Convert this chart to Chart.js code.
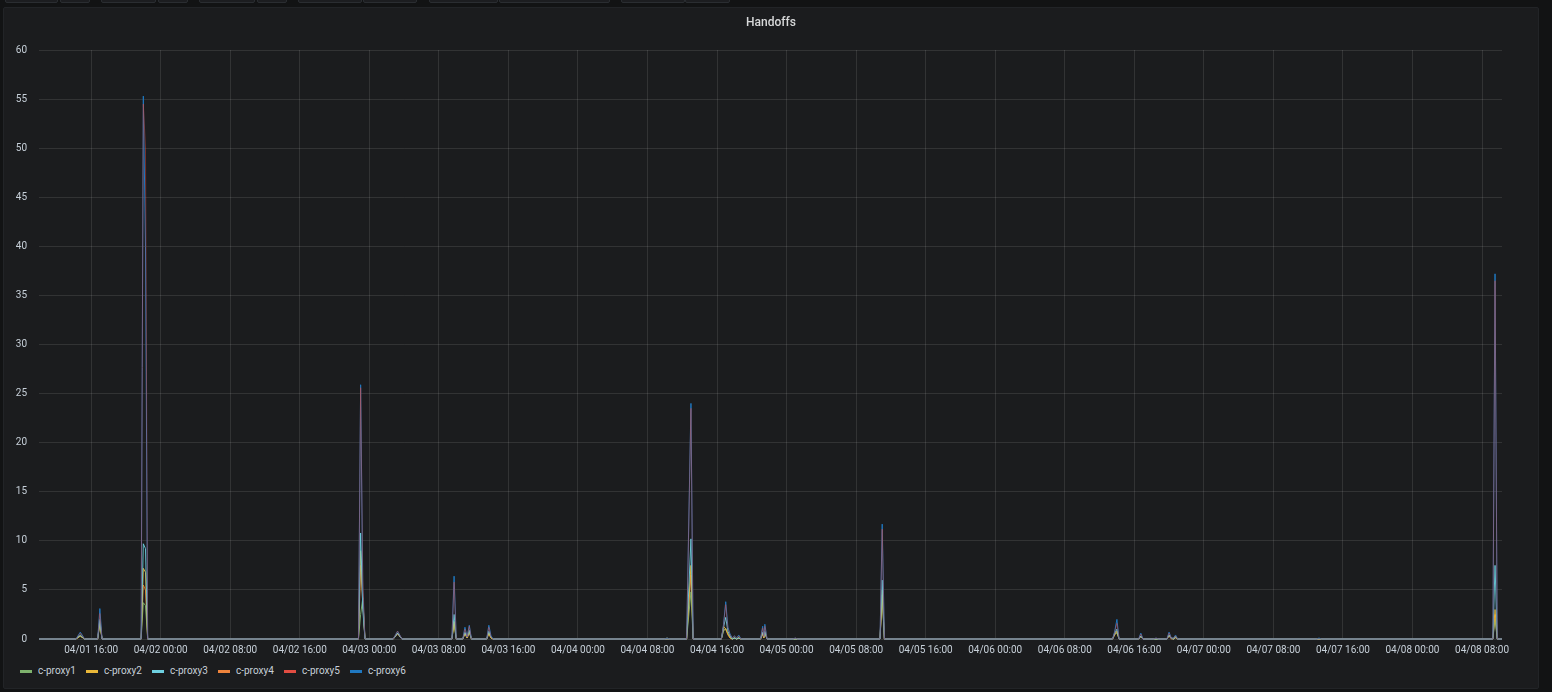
<!DOCTYPE html>
<html>
<head>
<meta charset="utf-8">
<title>Handoffs</title>
<script src="https://cdn.jsdelivr.net/npm/chart.js@4.4.0/dist/chart.umd.min.js"></script>
<style>
  html, body {
    margin: 0;
    padding: 0;
    width: 1552px;
    height: 692px;
    overflow: hidden;
    background: #121314;
    font-family: Roboto, "Noto Sans", sans-serif;
  }
  .btn {
    position: absolute;
    top: -20px;
    height: 21px;
    background: #1c1d20;
    border: 1px solid #2a2d31;
    border-radius: 2px;
  }
  #panel {
    position: absolute;
    left: 3px;
    top: 7px;
    width: 1536px;
    height: 682px;
    box-sizing: border-box;
    background: #1b1c1e;
    border: 1px solid #222427;
    border-radius: 2px;
  }
  #title {
    position: absolute;
    left: 0;
    top: 6px;
    width: 100%;
    text-align: center;
    font-size: 12px;
    font-weight: 500;
    line-height: 16px;
    color: #d8d9da;
  }
  #handoffs {
    position: absolute;
    left: 0;
    top: 0;
  }
  #legend {
    position: absolute;
    left: 16px;
    top: 656px;
    height: 14px;
    display: flex;
  }
  .item {
    width: 66px;
    display: flex;
    align-items: center;
    font-size: 10px;
    line-height: 14px;
    color: #c7d0d9;
  }
  .swatch {
    width: 12px;
    height: 3px;
    margin-right: 6px;
  }
</style>
</head>
<body>
<div id="toolbar"></div>
<div id="panel">
  <canvas id="handoffs" width="1534" height="655"></canvas>
  <div id="title">Handoffs</div>
  <div id="legend"></div>
</div>
<script>
const SERIES = ["c-proxy1", "c-proxy2", "c-proxy3", "c-proxy4", "c-proxy5", "c-proxy6"];
const COLORS = ["#7EB26D", "#EAB839", "#6ED0E0", "#EF843C", "#E24D42", "#1F78C1"];
const LINE_ALPHA = [0.9, 0.9, 0.9, 0.8, 0.45, 1];
// lower order is painted on top: red over blue gives the purple-grey tint
const DRAW_ORDER = [5, 4, 3, 6, 0, 1];

// hours since 04/01 00:00
const HOURS = [
  10, 14.25, 14.75, 15.25, 16.75, 17, 17.25,
  21.75, 22, 22.25, 22.5,
  46.75, 47, 47.25, 47.5,
  50.75, 51.25, 51.75,
  57.5, 57.75, 58,
  58.75, 59, 59.25, 59.5, 59.75,
  61.5, 61.75, 62, 62.25,
  82, 82.25, 82.5,
  84.5, 85, 85.25,
  88.5, 88.75, 89, 89.25, 89.5, 89.75, 90, 90.25, 90.5, 90.75,
  93, 93.25, 93.375, 93.5, 93.75,
  96.75, 97, 97.25,
  106.75, 107, 107.25,
  133.5, 133.75, 134, 134.25,
  136.5, 136.75, 137,
  138.25, 138.5, 138.75,
  139.75, 140, 140.25, 140.5, 140.75, 141,
  157, 157.25, 157.5,
  177.25, 177.5, 177.75, 178.3,
];

const PROXY1 = [
  0, 0, 0.3, 0, 0, 1.5, 0,
  0, 3.7, 3.4, 0,
  0, 2.5, 4.2, 0,
  0, 0.6, 0,
  0, 1.5, 0,
  0, 0.6, 0.1, 0.7, 0,
  0, 0.6, 0.1, 0,
  0, 0, 0,
  0, 4.8, 0,
  0, 0.8, 1.1, 0.6, 0.2, 0, 0.1, 0, 0.1, 0,
  0, 0.6, 0.1, 0.7, 0,
  0, 0, 0,
  0, 4.5, 0,
  0, 0.5, 0.6, 0,
  0, 0.3, 0,
  0, 0, 0,
  0, 0.4, 0.1, 0, 0.2, 0,
  0, 0, 0,
  0, 2.0, 0, 0,
];

const PROXY2 = [
  0, 0, 0.3, 0, 0, 1.8, 0,
  0, 7.2, 6.8, 0,
  0, 9.0, 4.0, 0,
  0, 0.6, 0,
  0, 1.8, 0,
  0, 0.6, 0.1, 0.8, 0,
  0, 0.6, 0.1, 0,
  0, 0.1, 0,
  0, 7.5, 0,
  0, 1.3, 1.0, 0.5, 0.1, 0, 0.1, 0, 0.1, 0,
  0, 0.6, 0.1, 0.7, 0,
  0, 0, 0,
  0, 5.0, 0,
  0, 0.5, 0.8, 0,
  0, 0.3, 0,
  0, 0, 0,
  0, 0.4, 0.1, 0, 0.2, 0,
  0, 0, 0,
  0, 3.0, 0, 0,
];

const PROXY3 = [
  0, 0, 0.4, 0, 0, 2.0, 0,
  0, 9.7, 9.2, 0,
  0, 10.8, 3.0, 0,
  0, 0.6, 0,
  0, 2.5, 0,
  0, 0.7, 0.2, 0.9, 0,
  0, 0.8, 0.2, 0,
  0, 0, 0,
  0, 10.2, 0,
  0, 1.2, 2.2, 0.8, 0.3, 0, 0.1, 0, 0.1, 0,
  0, 0.7, 0.2, 0.8, 0,
  0, 0, 0,
  0, 6.0, 0,
  0, 0.6, 1.0, 0,
  0, 0.3, 0,
  0, 0, 0,
  0, 0.4, 0.1, 0, 0.2, 0,
  0, 0, 0,
  0, 7.5, 0, 0,
];

const PROXY4 = [
  0, 0, 0.3, 0, 0, 1.6, 0,
  0, 5.5, 5.0, 0,
  0, 7.5, 3.5, 0,
  0, 0.5, 0,
  0, 1.7, 0,
  0, 0.5, 0.1, 0.6, 0,
  0, 0.5, 0.1, 0,
  0, 0, 0,
  0, 6.5, 0,
  0, 0.9, 1.0, 0.4, 0.1, 0, 0.1, 0, 0.1, 0,
  0, 0.5, 0.1, 0.6, 0,
  0, 0, 0,
  0, 4.5, 0,
  0, 0.4, 0.7, 0,
  0, 0.2, 0,
  0, 0, 0,
  0, 0.3, 0, 0, 0.1, 0,
  0, 0, 0,
  0, 2.5, 0, 0,
];

const PROXY5 = [
  0, 0, 0.6, 0, 0, 2.6, 0,
  0, 54.5, 50, 0,
  0, 25.6, 6.0, 0,
  0, 0.8, 0,
  0, 5.8, 0,
  0, 1.0, 0.2, 1.3, 0,
  0, 1.2, 0.2, 0,
  0, 0, 0,
  0, 23.5, 0,
  0, 1.4, 3.5, 1.0, 0.4, 0.1, 0.3, 0.1, 0.3, 0,
  0, 1.1, 0.2, 1.3, 0,
  0, 0.1, 0,
  0, 11.2, 0,
  0, 0.7, 1.6, 0,
  0, 0.5, 0,
  0, 0.1, 0,
  0, 0.6, 0.1, 0.1, 0.3, 0,
  0, 0, 0,
  0, 36.5, 0, 0,
];

const PROXY6 = [
  0, 0, 0.7, 0, 0, 3.1, 0,
  0, 55.3, 40, 0,
  0, 25.9, 5.0, 0,
  0, 0.8, 0,
  0, 6.4, 0,
  0, 1.2, 0.2, 1.4, 0,
  0, 1.4, 0.3, 0,
  0, 0.1, 0,
  0, 24.0, 0,
  0, 1.5, 3.8, 1.2, 0.5, 0.1, 0.3, 0.1, 0.4, 0,
  0, 1.3, 0.3, 1.5, 0,
  0, 0.1, 0,
  0, 11.7, 0,
  0, 0.8, 2.0, 0,
  0, 0.6, 0,
  0, 0.1, 0,
  0, 0.7, 0.1, 0.1, 0.4, 0,
  0, 0.1, 0,
  0, 37.2, 0, 0,
];

const VALUES = [PROXY1, PROXY2, PROXY3, PROXY4, PROXY5, PROXY6];

// cut-off row of dashboard buttons above the panel
const BUTTONS = [
  [5, 51], [60, 28], [101, 53], [158, 28], [199, 54], [257, 28],
  [298, 62], [363, 52], [429, 67], [499, 109], [621, 62], [685, 43],
];

const $toolbar = document.getElementById("toolbar");
BUTTONS.forEach(([left, width]) => {
  const el = document.createElement("div");
  el.className = "btn";
  el.style.left = left + "px";
  el.style.width = width + "px";
  $toolbar.appendChild(el);
});

const $legend = document.getElementById("legend");
SERIES.forEach((name, i) => {
  const item = document.createElement("div");
  item.className = "item";
  const sw = document.createElement("span");
  sw.className = "swatch";
  sw.style.background = COLORS[i];
  const label = document.createElement("span");
  label.textContent = name;
  item.appendChild(sw);
  item.appendChild(label);
  $legend.appendChild(item);
});

function withAlpha(hex, a) {
  const r = parseInt(hex.slice(1, 3), 16);
  const g = parseInt(hex.slice(3, 5), 16);
  const b = parseInt(hex.slice(5, 7), 16);
  return `rgba(${r}, ${g}, ${b}, ${a})`;
}

function formatHour(value) {
  const day = Math.floor(value / 24) + 1;
  const hour = value % 24;
  return "04/" + String(day).padStart(2, "0") + " " + String(hour).padStart(2, "0") + ":00";
}

const datasets = SERIES.map((name, i) => ({
  label: name,
  data: HOURS.map((h, j) => ({ x: h, y: VALUES[i][j] })),
  borderColor: withAlpha(COLORS[i], LINE_ALPHA[i]),
  backgroundColor: COLORS[i],
  borderWidth: 1,
  pointRadius: 0,
  tension: 0,
  fill: false,
  clip: 4,
  order: DRAW_ORDER[i],
}));

const GRID = "rgba(255, 255, 255, 0.1)";
const TICK_COLOR = "#c7d0d9";

new Chart(document.getElementById("handoffs"), {
  type: "line",
  data: { datasets },
  options: {
    responsive: false,
    animation: false,
    events: [],
    layout: {
      padding: { left: 0, top: 42, right: 36, bottom: 4 },
    },
    plugins: {
      legend: { display: false },
      tooltip: { enabled: false },
      title: { display: false },
    },
    scales: {
      x: {
        type: "linear",
        min: 10,
        max: 178.3,
        border: { display: false },
        grid: { color: GRID, drawTicks: false },
        ticks: {
          stepSize: 8,
          includeBounds: false,
          maxRotation: 0,
          autoSkip: false,
          padding: 5,
          color: TICK_COLOR,
          font: { family: "Roboto", size: 10 },
          callback: (value) => formatHour(value),
        },
        afterFit: (scale) => {
          scale.height = 20;
        },
      },
      y: {
        min: 0,
        max: 60,
        border: { display: false },
        grid: { color: GRID, drawTicks: false },
        ticks: {
          stepSize: 5,
          padding: 12,
          color: TICK_COLOR,
          font: { family: "Roboto", size: 10 },
        },
        afterFit: (scale) => {
          scale.width = 35;
        },
      },
    },
  },
});
</script>
</body>
</html>
